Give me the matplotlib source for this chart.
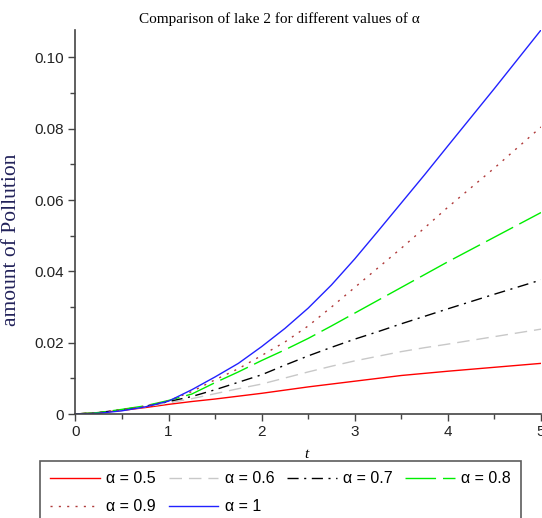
import numpy as np
import matplotlib
matplotlib.use("Agg")
import matplotlib.pyplot as plt
from matplotlib.ticker import MultipleLocator

# time points and pollution amount in lake 2 for each alpha
t = [0, 0.25, 0.5, 0.75, 1, 1.25, 1.5, 1.75, 2, 2.25, 2.5, 2.75, 3,
     3.25, 3.5, 3.75, 4, 4.5, 5]
p_05 = [0, 0.0004, 0.0010, 0.0018, 0.0027, 0.0035, 0.0042, 0.0050, 0.0058,
        0.0067, 0.0076, 0.0084, 0.0092, 0.0100, 0.0108, 0.0114, 0.0120,
        0.0131, 0.0142]
p_06 = [0, 0.0004, 0.0011, 0.0020, 0.0031, 0.0043, 0.0057, 0.0071, 0.0084,
        0.0101, 0.0118, 0.0134, 0.0149, 0.0162, 0.0175, 0.0186, 0.0196,
        0.0217, 0.0238]
p_07 = [0, 0.0004, 0.0012, 0.0022, 0.0035, 0.0049, 0.0068, 0.0089, 0.0110,
        0.0137, 0.0163, 0.0187, 0.0210, 0.0231, 0.0253, 0.0274, 0.0295,
        0.0336, 0.0376]
p_08 = [0, 0.0004, 0.0013, 0.0023, 0.0038, 0.0056, 0.0088, 0.0118, 0.0150,
        0.0180, 0.0212, 0.0247, 0.0283, 0.0319, 0.0355, 0.0391, 0.0427,
        0.0496, 0.0565]
p_09 = [0, 0.0003, 0.0012, 0.0022, 0.0037, 0.0063, 0.0096, 0.0127, 0.0164,
        0.0202, 0.0247, 0.0300, 0.0355, 0.0410, 0.0465, 0.0522, 0.0580,
        0.0690, 0.0805]
p_10 = [0, 0.0002, 0.0009, 0.0020, 0.0036, 0.0068, 0.0104, 0.0142, 0.0189,
        0.0240, 0.0297, 0.0362, 0.0435, 0.0513, 0.0592, 0.0671, 0.0752,
        0.0913, 0.1077]
labels = ["0.5", "0.6", "0.7", "0.8", "0.9", "1"]

fig = plt.figure(figsize=(5.42, 5.18), dpi=100)
ax = fig.add_axes([75.4 / 542, 1 - 414 / 518, (541 - 75.4) / 542, (414 - 30) / 518])

lw = 1.0
styles = [
    dict(color="#ff0000", linestyle="-"),
    dict(color="#c8c8c8", dashes=(9, 5)),
    dict(color="#000000", dashes=(8, 4, 1.5, 4)),
    dict(color="#00ee00", dashes=(22, 5)),
    dict(color="#b03a3a", dashes=(1.5, 4.5)),
    dict(color="#2222ff", linestyle="-"),
]
series = [p_05, p_06, p_07, p_08, p_09, p_10]
lines = []
for ys, st, lab in zip(series, styles, labels):
    ln, = ax.plot(t, ys, lw=lw, label="α = " + lab, **st)
    lines.append(ln)

ax.set_xlim(0, 5)
ax.set_ylim(0, 0.1077)
for s in ["top", "right"]:
    ax.spines[s].set_visible(False)
for s in ["left", "bottom"]:
    ax.spines[s].set_color("#444444")
    ax.spines[s].set_linewidth(1.2)

ax.xaxis.set_major_locator(MultipleLocator(1))
ax.xaxis.set_minor_locator(MultipleLocator(0.5))
ax.yaxis.set_major_locator(MultipleLocator(0.02))
ax.yaxis.set_minor_locator(MultipleLocator(0.01))
ax.yaxis.set_major_formatter(lambda v, pos: "0" if v == 0 else "%.2f" % v)
ax.tick_params(which="major", direction="out", length=5, width=1, color="#444444",
               labelsize=11, labelcolor="#222222", pad=3)
ax.tick_params(which="minor", direction="out", length=3.5, width=1, color="#444444")
for lb in ax.get_xticklabels() + ax.get_yticklabels():
    lb.set_family("Liberation Sans")

fig.text(279 / 542, 1 - 19 / 518, "Comparison of lake 2 for different values of α",
         ha="center", va="center", family="Liberation Serif", fontsize=11)
fig.text(12 / 542, 1 - 240 / 518, "amount of Pollution", rotation=90,
         ha="center", va="center", family="Liberation Serif", fontsize=15.5,
         color="#22225a")
fig.text(306 / 542, 1 - 455 / 518, "t", ha="center", va="center",
         family="Liberation Serif", style="italic", fontsize=11)

# legend filled column-wise, reordered so it reads across the rows
order = [0, 4, 1, 5, 2, 3]
leg = fig.legend([lines[i] for i in order], [lines[i].get_label() for i in order],
                 ncol=4, loc="upper left",
                 bbox_to_anchor=(40 / 542, 1 - 461 / 518),
                 borderaxespad=0, frameon=True, fancybox=False,
                 edgecolor="#333333", handlelength=3.1, handletextpad=0.4,
                 columnspacing=0.8, labelspacing=0.8, borderpad=0.65,
                 prop={"family": "Liberation Sans", "size": 11.5})
leg.get_frame().set_linewidth(1.2)

fig.savefig("out.png", dpi=100)
